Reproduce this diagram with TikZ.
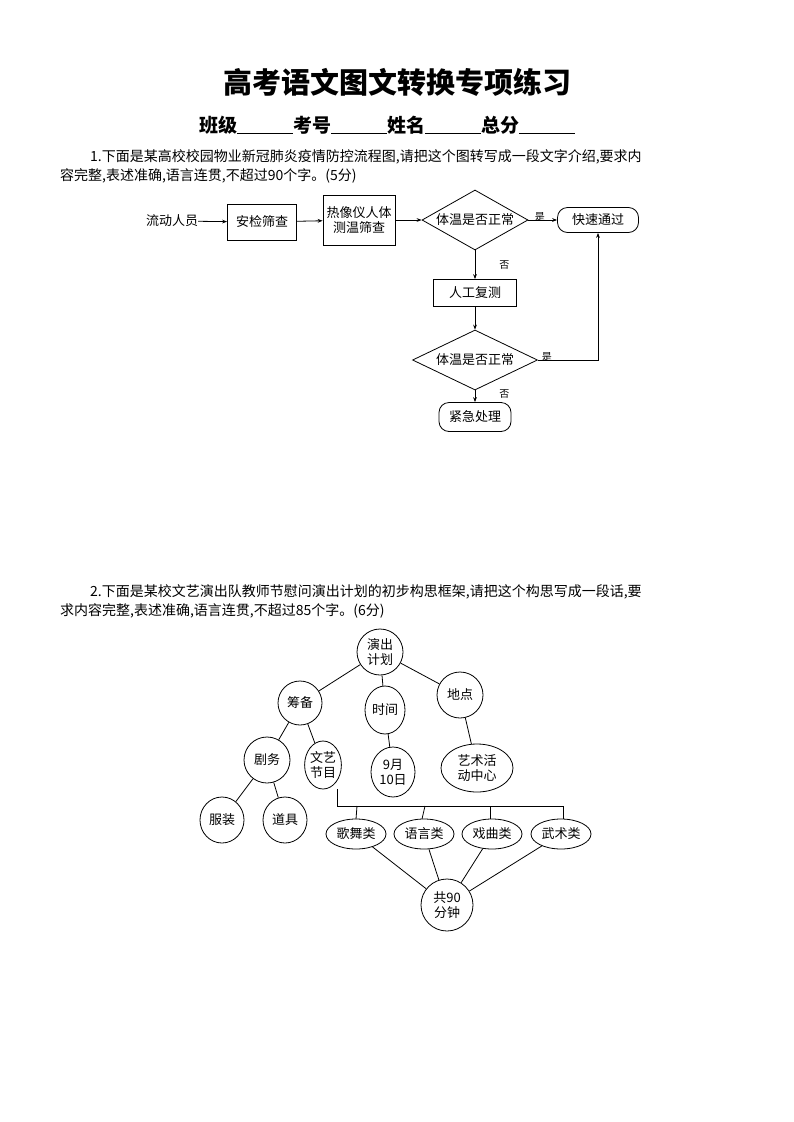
\documentclass[tikz,border=0pt]{standalone}
\usepackage{fontspec}
\setmainfont{Noto Sans CJK SC}
\usetikzlibrary{shapes.geometric,arrows.meta}
\begin{document}
\begin{tikzpicture}[x=1pt,y=-1pt,
  every node/.style={inner sep=0pt},
  fl/.style={font=\fontsize{13}{15}\selectfont},
  box/.style={draw,thick,fl,align=center,minimum height=34},
  dia/.style={draw,thick,diamond,aspect=1.75,fl,minimum width=106,minimum height=60},
  term/.style={draw,thick,rounded corners=10,fl,minimum height=25},
  arr/.style={-{Stealth[length=5pt]},thick},
  lbl/.style={font=\fontsize{10}{12}\selectfont},
  tr/.style={draw,thick,ellipse,font=\fontsize{13}{15}\selectfont,align=center},
  q/.style={anchor=west,font=\fontsize{14}{16}\selectfont}]
\useasboundingbox (0,0) rectangle (793,1122);
\node (title) at (397,82) {\fontsize{29}{32}\selectfont\bfseries 高考语文图文转换专项练习};
\node (hdr) at (387,125) {\fontsize{19}{22}\selectfont\bfseries 班级\underline{\hspace{56pt}}考号\underline{\hspace{56pt}}姓名\underline{\hspace{56pt}}总分\underline{\hspace{56pt}}};
\node[q] (q1a) at (90,157) {1.下面是某高校校园物业新冠肺炎疫情防控流程图,请把这个图转写成一段文字介绍,要求内};
\node[q] (q1b) at (60,176) {容完整,表述准确,语言连贯,不超过90个字。(5分)};
\node[q] (q2a) at (90,592) {2.下面是某校文艺演出队教师节慰问演出计划的初步构思框架,请把这个构思写成一段话,要};
\node[q] (q2b) at (60,611) {求内容完整,表述准确,语言连贯,不超过85个字。(6分)};
% flowchart
\node[fl] (p) at (172,221) {流动人员};
\node[box,minimum width=69,minimum height=36] (a) at (262,222) {安检筛查};
\node[box,minimum width=72,minimum height=50] (b) at (359,220) {热像仪人体\\测温筛查};
\node[dia] (d1) at (475,220) {体温是否正常};
\node[term,minimum width=81] (f) at (598,220) {快速通过};
\node[box,minimum width=83,minimum height=27] (m) at (475,293) {人工复测};
\node[dia,minimum width=125] (d2) at (475,360) {体温是否正常};
\node[term,minimum width=72,minimum height=29] (e) at (475,417) {紧急处理};
\draw[arr] (p) -- (a);
\draw[arr] (a) -- (b);
\draw[arr] (b) -- (d1);
\draw[arr] (d1) -- node[lbl,above,pos=0.4,yshift=-2] {是} (f);
\draw[arr] (d1) -- node[lbl,right,xshift=24] {否} (m);
\draw[arr] (m) -- (d2);
\draw[arr] (d2.east) -- node[lbl,above,pos=0.15,yshift=-2] {是} (d2.east -| f.south) -- (f.south);
\draw[arr] (d2) -- node[lbl,right,xshift=24,yshift=2] {否} (e);
% tree
\node[tr,minimum width=46,minimum height=46] (t0) at (380,652) {演出\\计划};
\node[tr,minimum width=44,minimum height=44] (t1) at (300,703) {筹备};
\node[tr,minimum width=40,minimum height=48] (t2) at (385,710) {时间};
\node[tr,minimum width=46,minimum height=46] (t3) at (460,695) {地点};
\node[tr,minimum width=46,minimum height=46] (t4) at (267,760) {剧务};
\node[tr,minimum width=33,minimum height=48] (t5) at (323,765) {文艺\\节目};
\node[tr,minimum width=44,minimum height=50] (t6) at (393,772) {9月\\10日};
\node[tr,minimum width=72,minimum height=48] (t7) at (477,768) {艺术活\\动中心};
\node[tr,minimum width=44,minimum height=46] (t8) at (222,820) {服装};
\node[tr,minimum width=44,minimum height=46] (t9) at (285,820) {道具};
\node[tr,minimum width=60,minimum height=30] (c1) at (356,834) {歌舞类};
\node[tr,minimum width=60,minimum height=30] (c2) at (424,834) {语言类};
\node[tr,minimum width=60,minimum height=30] (c3) at (492,834) {戏曲类};
\node[tr,minimum width=60,minimum height=30] (c4) at (561,834) {武术类};
\node[tr,minimum width=52,minimum height=52] (s) at (447,905) {共90\\分钟};
\draw[thick] (t0) -- (t1);
\draw[thick] (t0) -- (t2);
\draw[thick] (t0) -- (t3);
\draw[thick] (t1) -- (t4);
\draw[thick] (t1) -- (t5);
\draw[thick] (t2) -- (t6);
\draw[thick] (t3) -- (t7);
\draw[thick] (t4) -- (t8);
\draw[thick] (t4) -- (t9);
\coordinate (bar) at (337,806);
\draw[thick] (t5.south -| bar) -- (bar) -- (563,806) -- (563,819);
\draw[thick] (357,806) -- (356,819);
\draw[thick] (425,806) -- (422,819);
\draw[thick] (490,806) -- (490,819);
\draw[thick] (c1) -- (s);
\draw[thick] (c2) -- (s);
\draw[thick] (c3) -- (s);
\draw[thick] (c4) -- (s);
\end{tikzpicture}
\end{document}
